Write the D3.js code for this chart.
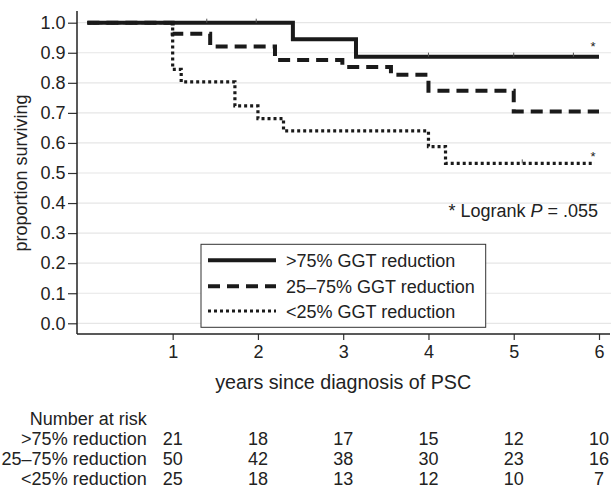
<!DOCTYPE html>
<html>
<head>
<meta charset="utf-8">
<script src="https://cdn.jsdelivr.net/npm/d3@7"></script>
<style>
  body { margin: 0; background: #fff; }
  text { font-family: "Liberation Sans", Arial, sans-serif; fill: #222; }
</style>
</head>
<body>
<div id="chart"></div>
<script>
// survival steps: [years, proportion surviving]
const groupHigh = [[0, 1.0], [2.41, 0.945], [3.15, 0.887], [6.0, 0.887]];
const groupMid = [[0, 1.0], [1.0, 0.963], [1.44, 0.921], [2.2, 0.876], [2.99, 0.853],
                  [3.56, 0.827], [4.0, 0.774], [5.0, 0.705], [6.0, 0.705]];
const groupLow = [[0, 1.0], [1.0, 0.845], [1.1, 0.803], [1.73, 0.723], [2.0, 0.681],
                  [2.3, 0.640], [4.0, 0.588], [4.2, 0.532], [5.95, 0.532]];
// censoring marks (years)
const censorHigh = [1.4, 1.98, 4.0, 5.0, 5.7];
const censorMid = [];
const censorLow = [5.1];

const groupNames = [">75% GGT reduction", "25\u201375% GGT reduction", "<25% GGT reduction"];
const riskNames = [">75% reduction", "25\u201375% reduction", "<25% reduction"];
const riskTimes = [1, 2, 3, 4, 5, 6];
const riskHigh = [21, 18, 17, 15, 12, 10];
const riskMid = [50, 42, 38, 30, 23, 16];
const riskLow = [25, 18, 13, 12, 10, 7];

const yTicks = [0, 0.1, 0.2, 0.3, 0.4, 0.5, 0.6, 0.7, 0.8, 0.9, 1.0];
const xTicks = [1, 2, 3, 4, 5, 6];

const W = 611, H = 496;
const fs = 18;

const svg = d3.select("#chart").append("svg")
    .attr("width", W).attr("height", H);

const xs = d3.scaleLinear().domain([0, 6]).range([87.4, 599]);
const ys = d3.scaleLinear().domain([0, 1]).range([323.3, 22.7]);
const axisX = 77, axisY = 334;

// grid
svg.append("g").selectAll("line").data(yTicks).join("line")
    .attr("x1", axisX).attr("x2", W)
    .attr("y1", d => ys(d)).attr("y2", d => ys(d))
    .attr("stroke", "#e6e6e6").attr("stroke-width", 1.2);

// y axis
const gy = svg.append("g").attr("transform", `translate(${axisX},0)`)
    .call(d3.axisLeft(ys).tickValues(yTicks).tickSize(9).tickPadding(2.5)
        .tickFormat(d3.format(".1f")));
gy.select(".domain").remove();
gy.selectAll(".tick line").attr("stroke", "#333").attr("stroke-width", 1.2);
gy.selectAll(".tick text").style("font-size", fs + "px")
    .style("font-family", "Liberation Sans, Arial, sans-serif").attr("fill", "#222");

// x axis
const gx = svg.append("g").attr("transform", `translate(0,${axisY})`)
    .call(d3.axisBottom(xs).tickValues(xTicks).tickSize(6).tickPadding(5)
        .tickFormat(d3.format("d")));
gx.select(".domain").remove();
gx.selectAll(".tick line").attr("stroke", "#333").attr("stroke-width", 1.2);
gx.selectAll(".tick text").style("font-size", fs + "px")
    .style("font-family", "Liberation Sans, Arial, sans-serif").attr("fill", "#222");

// axis lines
svg.append("line").attr("x1", axisX).attr("x2", axisX).attr("y1", 11).attr("y2", axisY)
    .attr("stroke", "#222").attr("stroke-width", 1.5);
svg.append("line").attr("x1", axisX).attr("x2", 610).attr("y1", axisY).attr("y2", axisY)
    .attr("stroke", "#222").attr("stroke-width", 1.5);

// axis titles
svg.append("text")
    .attr("transform", `translate(27,${ys(0.5)}) rotate(-90)`)
    .attr("text-anchor", "middle").style("font-size", fs + "px")
    .text("proportion surviving");
svg.append("text")
    .attr("x", xs(3)).attr("y", 389)
    .attr("text-anchor", "middle").style("font-size", "19.7px")
    .text("years since diagnosis of PSC");

// curves
const styles = [
    {w: 4, dash: null},
    {w: 4, dash: "12,7"},
    {w: 3.2, dash: "3,3"}
];
const line = d3.line().x(d => xs(d[0])).y(d => ys(d[1])).curve(d3.curveStepAfter);
const groups = [groupHigh, groupMid, groupLow];
const censors = [censorHigh, censorMid, censorLow];

function survAt(data, t) {
    let v = data[0][1];
    data.forEach(d => { if (d[0] <= t) v = d[1]; });
    return v;
}

groups.forEach((g, i) => {
    svg.append("path").datum(g)
        .attr("d", line)
        .attr("fill", "none")
        .attr("stroke", "#1a1a1a")
        .attr("stroke-width", styles[i].w)
        .attr("stroke-dasharray", styles[i].dash);
    svg.append("g").selectAll("line").data(censors[i]).join("line")
        .attr("x1", d => xs(d)).attr("x2", d => xs(d))
        .attr("y1", d => ys(survAt(g, d)) - 4).attr("y2", d => ys(survAt(g, d)))
        .attr("stroke", "#555").attr("stroke-width", 1);
});

// asterisks
svg.append("text").attr("x", 593).attr("y", 51).attr("text-anchor", "middle")
    .style("font-size", "13px").text("*");
svg.append("text").attr("x", 593).attr("y", 161).attr("text-anchor", "middle")
    .style("font-size", "13px").text("*");

// logrank note
const note = svg.append("text").attr("x", 598).attr("y", 216.5)
    .attr("text-anchor", "end").style("font-size", fs + "px");
note.append("tspan").text("* Logrank ");
note.append("tspan").style("font-style", "italic").text("P");
note.append("tspan").text(" = .055");

// legend
const lg = svg.append("g");
lg.append("rect").attr("x", 201).attr("y", 244.3).attr("width", 284.7).attr("height", 83)
    .attr("fill", "#fff").attr("stroke", "#333").attr("stroke-width", 1);
const legY = [260.3, 286.2, 311];
groupNames.forEach((name, i) => {
    lg.append("line").attr("x1", 208).attr("x2", 276)
        .attr("y1", legY[i]).attr("y2", legY[i])
        .attr("stroke", "#1a1a1a")
        .attr("stroke-width", styles[i].w)
        .attr("stroke-dasharray", styles[i].dash);
    lg.append("text").attr("x", 286).attr("y", legY[i] + 6.5)
        .style("font-size", fs + "px").text(name);
});

// number at risk table
svg.append("text").attr("x", 146.7).attr("y", 424.5).attr("text-anchor", "end")
    .style("font-size", fs + "px").text("Number at risk");
const riskRows = [riskHigh, riskMid, riskLow];
const rowY = [444.5, 464.5, 484.5];
riskRows.forEach((row, i) => {
    svg.append("text").attr("x", 146.7).attr("y", rowY[i]).attr("text-anchor", "end")
        .style("font-size", fs + "px").text(riskNames[i]);
    svg.append("g").selectAll("text").data(row).join("text")
        .attr("x", (d, j) => xs(riskTimes[j]))
        .attr("y", rowY[i])
        .attr("text-anchor", "middle")
        .style("font-size", fs + "px")
        .text(d => d);
});
</script>
</body>
</html>
